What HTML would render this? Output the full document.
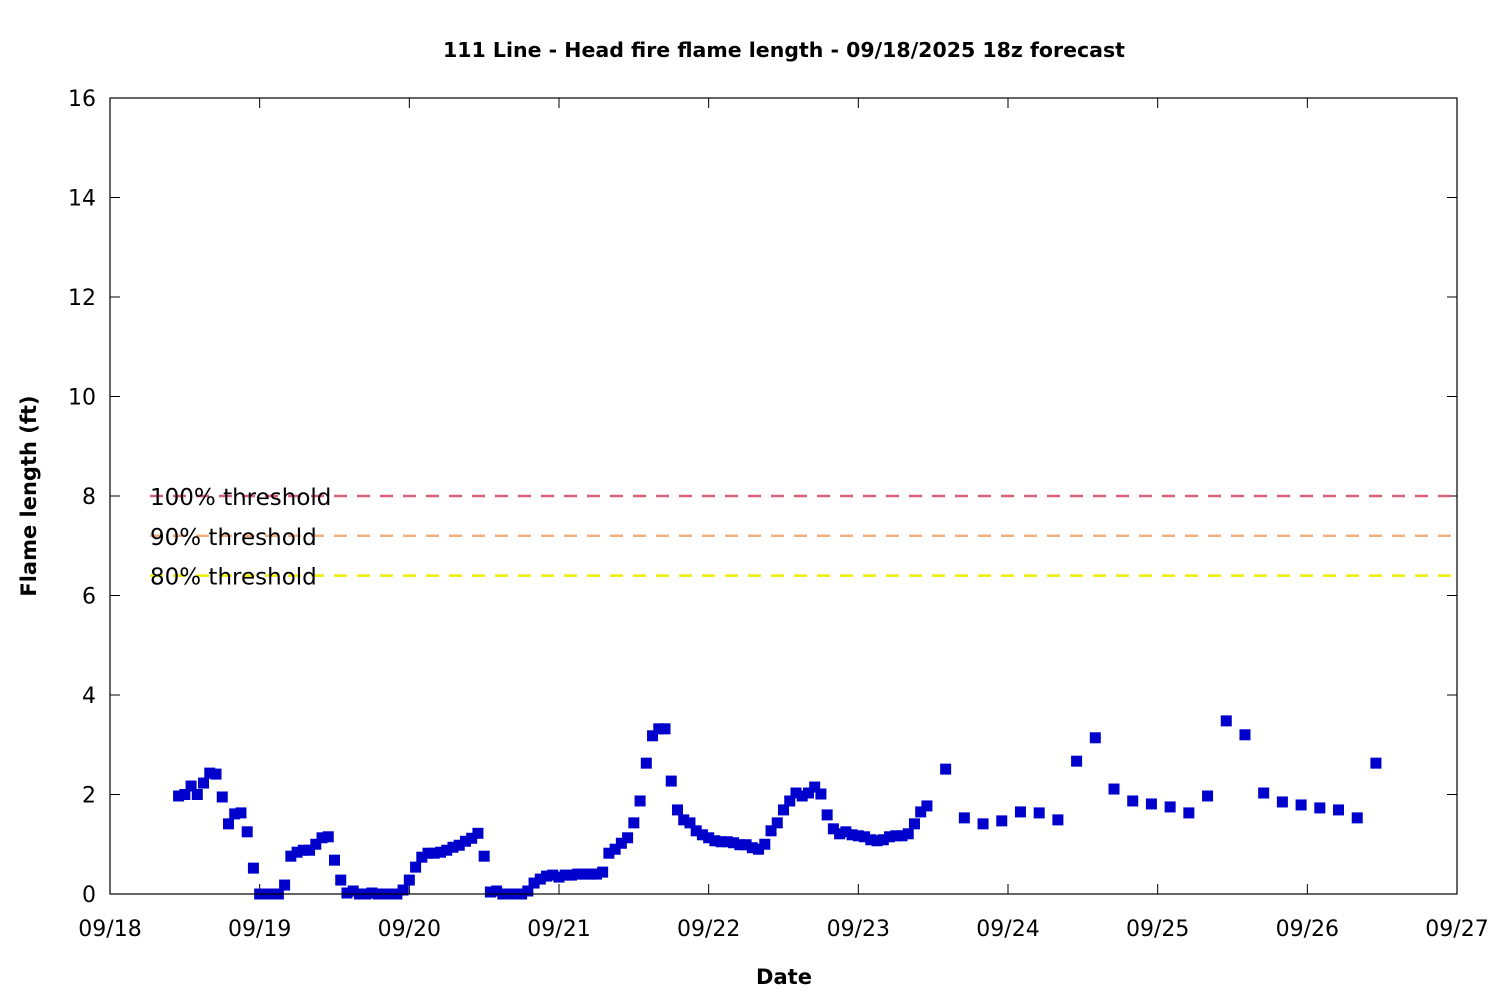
<!DOCTYPE html>
<html><head><meta charset="utf-8"><style>
body{margin:0;background:#fff}
svg{display:block;font-family:"DejaVu Sans","Liberation Sans",sans-serif}
</style></head><body>
<svg id="chart" width="1500" height="1000" viewBox="0 0 1500 1000">
<rect x="0" y="0" width="1500" height="1000" fill="#fff"/>
<text x="784" y="57" text-anchor="middle" font-size="20.5" font-weight="bold">111 Line - Head fire flame length - 09/18/2025 18z forecast</text>
<text x="784" y="984" text-anchor="middle" font-size="21" font-weight="bold">Date</text>
<text transform="translate(36,496) rotate(-90)" text-anchor="middle" font-size="21" font-weight="bold">Flame length (ft)</text>
<g id="grid"></g>
<g id="thresholds"></g>
<g id="marks"></g>
<rect x="110" y="98" width="1347" height="796" fill="none" stroke="#000" stroke-width="1.2"/>
</svg>
<script>
const xTickLabels=["09/18","09/19","09/20","09/21","09/22","09/23","09/24","09/25","09/26","09/27"];
const yTickValues=[0,2,4,6,8,10,12,14,16];
const thresholdNames=["100% threshold","90% threshold","80% threshold"];
const thresholdValues=[8,7.2,6.4];
const thresholdColors=["#d8607a","#f2b080","#eeee00"];
const hourlyStart=11;
const hourlyValues=[1.97,2.0,2.17,2.0,2.23,2.43,2.41,1.95,1.41,1.61,1.63,1.25,0.52,0,0,0,0,0.18,0.76,0.84,0.88,0.88,1.0,1.13,1.15,0.68,0.28,0.02,0.06,0,0,0.02,0,0,0,0,0.08,0.28,0.54,0.74,0.82,0.82,0.84,0.88,0.94,0.98,1.06,1.12,1.22,0.76,0.04,0.06,0,0,0,0,0.06,0.22,0.3,0.36,0.38,0.34,0.38,0.38,0.4,0.4,0.4,0.4,0.44,0.82,0.9,1.02,1.13,1.43,1.87,2.63,3.18,3.32,3.32,2.27,1.69,1.49,1.43,1.27,1.19,1.13,1.07,1.05,1.05,1.03,0.99,0.99,0.93,0.9,1.0,1.27,1.43,1.69,1.87,2.03,1.97,2.03,2.15,2.01,1.59,1.31,1.21,1.25,1.19,1.17,1.15,1.09,1.07,1.09,1.15,1.17,1.17,1.21,1.41,1.65,1.77];
const threeHourlyStart=134;
const threeHourlyValues=[2.51,1.53,1.41,1.47,1.65,1.63,1.49,2.67,3.14,2.11,1.87,1.81,1.75,1.63,1.97,3.48,3.2,2.03,1.85,1.79,1.73,1.69,1.53,2.63];

const NS="http://www.w3.org/2000/svg";
const X0=110,X1=1457,Y0=894,Y1=98;
const xScale=h=>X0+(X1-X0)*h/(9*24);
const yScale=v=>Y0-(Y0-Y1)*v/16;
function mk(tag,attrs,parent){const e=document.createElementNS(NS,tag);for(const k in attrs)e.setAttribute(k,attrs[k]);parent.appendChild(e);return e;}
const grid=document.getElementById('grid');
yTickValues.forEach(v=>{
  const y=yScale(v);
  const t=mk('line',{x1:X0,x2:X0+10,y1:y,y2:y,stroke:'#000'},grid);
  
  
  const t2=mk('line',{x1:X1-10,x2:X1,y1:y,y2:y,stroke:'#000'},grid);
  
  
  const l=mk('text',{x:96,y:y+8,'text-anchor':'end','font-size':22},grid);
  l.textContent=v;
  
  
});
xTickLabels.forEach((s,i)=>{
  const x=xScale(i*24);
  const t=mk('line',{x1:x,x2:x,y1:Y0,y2:Y0-10,stroke:'#000'},grid);
  
  
  const t2=mk('line',{x1:x,x2:x,y1:Y1,y2:Y1+10,stroke:'#000'},grid);
  
  
  const l=mk('text',{x:x,y:936,'text-anchor':'middle','font-size':22},grid);
  l.textContent=s;
  
  
});
const th=document.getElementById('thresholds');
thresholdValues.forEach((v,i)=>{
  const y=yScale(v);
  const ln=mk('line',{x1:150,x2:X1,y1:y,y2:y,stroke:thresholdColors[i],'stroke-width':2.5,'stroke-dasharray':'13,10'},th);
  
  
  const t=mk('text',{x:150,y:y+9,'font-size':23},th);
  t.textContent=thresholdNames[i];
  
  
});
const marks=document.getElementById('marks');
function pt(h,v){
  const r=mk('rect',{x:xScale(h)-5.5,y:yScale(v)-5.5,width:11,height:11,fill:'#0000cc'},marks);
  
  
}
hourlyValues.forEach((v,i)=>pt(hourlyStart+i,v));
threeHourlyValues.forEach((v,i)=>pt(threeHourlyStart+3*i,v));
</script>
</body></html>
